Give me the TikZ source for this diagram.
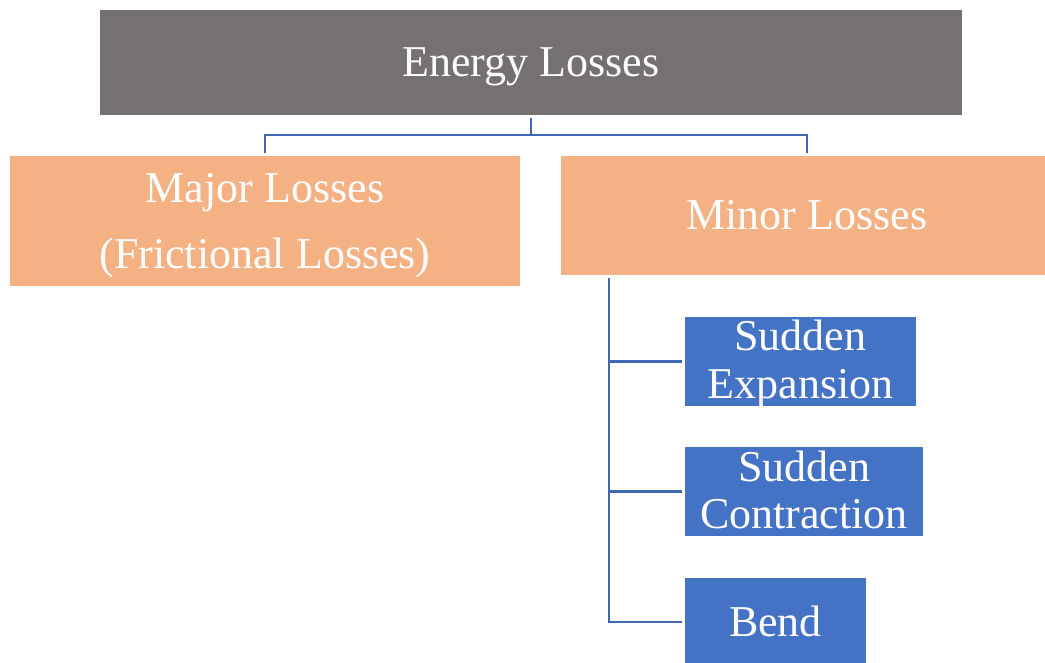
\documentclass[tikz,border=0pt]{standalone}
\usepackage{fontspec}
\setmainfont{Liberation Serif}
\definecolor{topgray}{HTML}{767171}
\definecolor{peach}{HTML}{F4B183}
\definecolor{midblue}{HTML}{4472C4}
\definecolor{linkblue}{HTML}{3F67B3}
\begin{document}
\begin{tikzpicture}[x=1pt,y=-1pt,
  box/.style={draw=none,inner sep=0pt,outer sep=0pt},
  graybox/.style={box,fill=topgray},
  peachbox/.style={box,fill=peach},
  bluebox/.style={box,fill=midblue},
  txt/.style={anchor=base,inner sep=0pt,text=white,font=\fontsize{44}{53}\selectfont},
  conn/.style={draw=linkblue,line width=2.5pt}]
\useasboundingbox (0,0) rectangle (1045,662);
% boxes
\node[graybox,minimum width=862pt,minimum height=105pt] (top) at (531,62.5) {};
\node[peachbox,minimum width=510pt,minimum height=130pt] (major) at (265,221) {};
\node[peachbox,minimum width=492pt,minimum height=119pt] (minor) at (807,215.5) {};
\node[bluebox,minimum width=231pt,minimum height=89pt] (se) at (800.5,361.5) {};
\node[bluebox,minimum width=238pt,minimum height=89pt] (sc) at (804,491.5) {};
\node[bluebox,minimum width=181pt,minimum height=88pt] (bend) at (775.5,622) {};
% texts
\node[txt] (tE) at (531,76) {Energy Losses};
\node[txt] (tMa1) at (265,202.5) {Major Losses};
\node[txt] (tMa2) at (265,268) {(Frictional Losses)};
\node[txt] (tMi) at (807,229) {Minor Losses};
\node[txt] (tSe1) at (800.5,350) {Sudden};
\node[txt] (tSe2) at (800.5,398) {Expansion};
\node[txt] (tSc1) at (804,481) {Sudden};
\node[txt] (tSc2) at (804,528) {Contraction};
\node[txt] (tB) at (775.5,636) {Bend};
% connectors
\coordinate (hub) at (531,135);
\coordinate (spine) at (609,278);
\draw[conn] ([yshift=-3pt]top.south) -- (hub);
\draw[conn] ([yshift=3pt]major.north) |- (hub) -| ([yshift=3pt]minor.north);
\draw[conn] (spine) |- ([xshift=-3pt]bend.west);
\draw[conn] (spine |- se.west) -- ([xshift=-3pt]se.west);
\draw[conn] (spine |- sc.west) -- ([xshift=-3pt]sc.west);
\end{tikzpicture}
\end{document}
